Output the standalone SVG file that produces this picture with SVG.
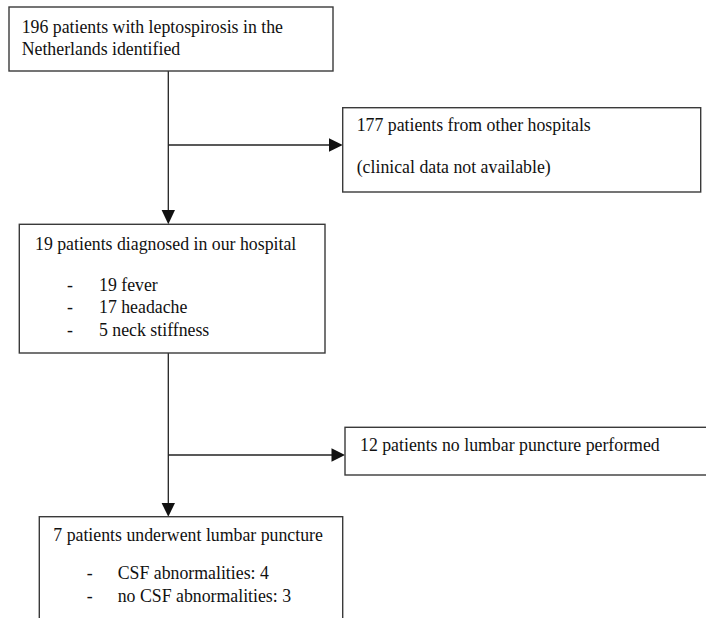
<svg xmlns="http://www.w3.org/2000/svg" width="706" height="618" viewBox="0 0 706 618">
<style>
.box{fill:#fff;stroke:#3a3a3a;stroke-width:1.4}
.t{font-family:"Liberation Serif","Times New Roman",serif;font-size:17.8px;fill:#111}
.ln{stroke:#222;stroke-width:1.3;fill:none}
.ah{fill:#111}
</style>
<rect width="706" height="618" fill="#fff"/>
<g id="connectors">
<line class="ln" x1="168.3" y1="71" x2="168.3" y2="211"/>
<polygon class="ah" points="161.6,210 175,210 168.3,224.3"/>
<line class="ln" x1="168.3" y1="145" x2="330" y2="145"/>
<polygon class="ah" points="329,138.3 329,151.7 342.7,145"/>
<line class="ln" x1="168.3" y1="353" x2="168.3" y2="504"/>
<polygon class="ah" points="161.6,503 175,503 168.3,516.7"/>
<line class="ln" x1="168.3" y1="455" x2="332" y2="455"/>
<polygon class="ah" points="331.5,448.3 331.5,461.7 345,455"/>
</g>
<g id="n1">
<rect class="box" x="9" y="7" width="324" height="64"/>
<text class="t" x="21.7" y="32.5">196 patients with leptospirosis in the</text>
<text class="t" x="21.7" y="54.5">Netherlands identified</text>
</g>
<g id="n2">
<rect class="box" x="342.7" y="107.7" width="358" height="84.3"/>
<text class="t" x="356.7" y="131">177 patients from other hospitals</text>
<text class="t" x="356.7" y="173">(clinical data not available)</text>
</g>
<g id="n3">
<rect class="box" x="19.3" y="224.3" width="305.7" height="128.7"/>
<text class="t" x="35" y="250">19 patients diagnosed in our hospital</text>
<text class="t" x="67" y="290.5">-</text>
<text class="t" x="99" y="290.5">19 fever</text>
<text class="t" x="67" y="313">-</text>
<text class="t" x="99" y="313">17 headache</text>
<text class="t" x="67" y="335.5">-</text>
<text class="t" x="99" y="335.5">5 neck stiffness</text>
</g>
<g id="n4">
<rect class="box" x="345" y="427.3" width="370" height="47.7"/>
<text class="t" x="360" y="450.7">12 patients no lumbar puncture performed</text>
</g>
<g id="n5">
<rect class="box" x="39.3" y="516.7" width="303.4" height="115"/>
<text class="t" x="53.3" y="541">7 patients underwent lumbar puncture</text>
<text class="t" x="86.7" y="579">-</text>
<text class="t" x="117.7" y="579">CSF abnormalities: 4</text>
<text class="t" x="86.7" y="602">-</text>
<text class="t" x="117.7" y="602">no CSF abnormalities: 3</text>
</g>
</svg>
